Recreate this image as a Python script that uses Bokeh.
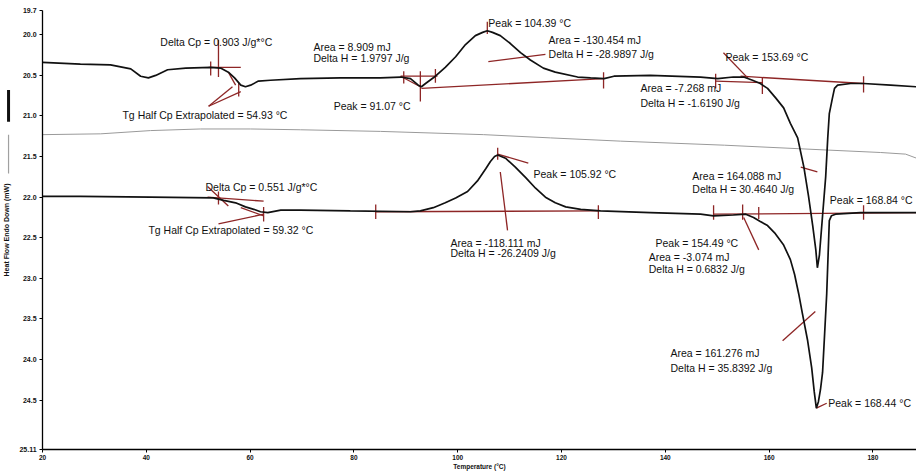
from bokeh.plotting import figure
from bokeh.models import Range1d, FixedTicker, Label
from bokeh.embed import file_html
from bokeh.resources import INLINE

# ---------------- data (temperature °C, heat flow mW) ----------------
top_T = [20.0, 27.3, 33.1, 37.0, 38.9, 40.4, 41.8, 44.1, 47.6, 52.4, 54.3, 55.8, 57.0, 58.2, 59.1, 60.1,
         61.6, 63.9, 69.7, 77.4, 85.1, 89.0, 90.9, 92.4, 93.0, 93.8, 95.7, 97.6, 99.6, 101.5, 103.4, 104.8,
         105.7, 106.7, 108.2, 110.2, 112.1, 114.0, 116.5, 118.8, 123.1, 125.6, 128.2, 130.1, 137.1, 146.8,
         150.1, 153.1, 155.1, 156.8, 158.3, 159.7, 161.3, 162.8, 164.1, 165.5, 166.7, 167.6, 168.4, 169.0,
         169.3, 169.7, 170.3, 170.9, 171.3, 171.6, 172.2, 172.6, 173.2, 175.7, 178.2, 183.4, 188.4]
top_H = [20.34, 20.36, 20.37, 20.42, 20.51, 20.53, 20.50, 20.43, 20.41, 20.40, 20.41, 20.46, 20.53, 20.62,
         20.64, 20.62, 20.57, 20.56, 20.54, 20.53, 20.53, 20.52, 20.54, 20.62, 20.64, 20.60, 20.51, 20.40,
         20.27, 20.12, 20.01, 19.97, 19.95, 19.97, 20.01, 20.11, 20.22, 20.31, 20.41, 20.46, 20.52, 20.53,
         20.54, 20.51, 20.50, 20.52, 20.54, 20.52, 20.52, 20.56, 20.60, 20.66, 20.78, 20.90, 21.09, 21.27,
         21.63, 21.99, 22.35, 22.65, 22.87, 22.71, 22.23, 21.75, 21.27, 20.97, 20.78, 20.66, 20.62, 20.60,
         20.60, 20.62, 20.64]

mid_T = [20.0, 31.2, 40.8, 50.4, 60.1, 69.7, 85.1, 105.0, 117.9, 131.4, 151.4, 171.3, 181.5, 186.3, 188.4]
mid_H = [21.23, 21.22, 21.18, 21.16, 21.16, 21.17, 21.19, 21.23, 21.27, 21.31, 21.36, 21.42, 21.45, 21.47, 21.52]

bot_T = [20.0, 27.3, 40.8, 52.9, 54.9, 57.2, 59.1, 60.7, 62.0, 63.4, 65.9, 69.7, 79.3, 90.9, 92.8, 95.3,
         97.6, 99.6, 101.9, 103.8, 105.4, 106.3, 107.1, 107.7, 109.2, 111.1, 113.1, 115.0, 116.9, 118.8,
         120.8, 123.7, 127.5, 137.1, 146.8, 149.3, 153.1, 155.5, 157.0, 158.3, 159.7, 161.2, 162.8, 164.1,
         164.9, 165.7, 166.4, 167.4, 168.2, 168.7, 169.1, 169.5, 169.9, 170.3, 170.7, 171.1, 171.3, 171.5,
         171.6, 172.0, 172.8, 177.6, 188.4]
bot_H = [21.99, 21.99, 22.00, 22.01, 22.04, 22.07, 22.12, 22.15, 22.18, 22.19, 22.16, 22.16, 22.17, 22.18,
         22.17, 22.13, 22.07, 22.01, 21.93, 21.80, 21.65, 21.56, 21.50, 21.48, 21.52, 21.63, 21.76, 21.89,
         22.00, 22.07, 22.12, 22.15, 22.17, 22.19, 22.21, 22.23, 22.22, 22.21, 22.25, 22.30, 22.35, 22.45,
         22.59, 22.77, 22.95, 23.19, 23.43, 23.76, 24.10, 24.40, 24.60, 24.52, 24.37, 24.16, 23.68, 23.19,
         22.83, 22.47, 22.29, 22.23, 22.21, 22.19, 22.19]

x_ticks = [20, 40, 60, 80, 100, 120, 140, 160, 180]
y_ticks = [19.7, 20.0, 20.5, 21.0, 21.5, 22.0, 22.5, 23.0, 23.5, 24.0, 24.5, 25.11]
y_tick_labels = ["19.7", "20.0", "20.5", "21.0", "21.5", "22.0", "22.5", "23.0", "23.5", "24.0", "24.5", "25.11"]

# curve key strokes drawn in the left margin (heat-flow extent of each stroke)
key_black_H = [20.68, 21.07]
key_gray_H = [21.23, 21.71]

# analysis construction lines (tangents, limits, pointers), data units
seg_T = [[53.9, 53.9], [52.0, 58.2], [52.4, 52.4], [52.0, 56.6], [52.0, 58.2], [55.8, 57.2], [57.8, 57.8],
         [92.8, 92.8], [89.0, 96.1], [95.7, 95.7], [89.0, 92.8], [89.6, 89.6], [93.0, 128.1], [128.1, 128.1],
         [105.7, 105.7], [105.9, 116.9], [149.7, 158.7], [154.5, 178.2], [149.7, 149.7], [158.7, 158.7],
         [178.2, 178.2], [151.2, 156.0],
         [51.8, 55.8], [51.8, 62.6], [53.9, 62.6], [58.2, 62.6], [62.6, 62.6], [53.9, 53.9], [84.2, 84.2],
         [107.7, 107.7], [107.7, 113.6], [108.2, 109.6], [84.2, 127.1], [127.1, 127.1], [149.3, 149.3],
         [154.9, 154.9], [158.0, 158.0], [155.1, 158.0], [149.3, 188.4], [178.2, 178.2], [162.6, 168.9],
         [166.1, 169.3], [169.1, 171.1]]
seg_H = [[20.06, 20.52], [20.40, 20.40], [20.33, 20.50], [20.88, 20.64], [20.88, 20.70], [20.46, 20.62],
         [20.59, 20.76], [20.45, 20.82], [20.51, 20.51], [20.42, 20.59], [20.51, 20.64], [20.45, 20.60],
         [20.66, 20.54], [20.46, 20.66], [19.84, 19.99], [20.33, 20.24], [20.57, 20.59], [20.51, 20.60],
         [20.48, 20.66], [20.53, 20.73], [20.51, 20.71], [20.22, 20.54],
         [21.87, 22.11], [22.00, 22.05], [22.33, 22.21], [22.13, 22.23], [22.12, 22.30], [21.93, 22.09],
         [22.09, 22.27], [21.39, 21.54], [21.47, 21.58], [21.69, 22.41], [22.18, 22.17], [22.10, 22.27],
         [22.10, 22.28], [22.09, 22.28], [22.12, 22.27], [22.25, 22.65], [22.21, 22.19], [22.10, 22.28],
         [23.77, 23.41], [21.63, 21.69], [24.60, 24.54]]

notes = [
    (42.7, 20.09, "Delta Cp = 0.903 J/g*°C"),
    (35.4, 20.99, "Tg  Half Cp Extrapolated = 54.93 °C"),
    (72.2, 20.15, "Area = 8.909 mJ"),
    (72.2, 20.29, "Delta H = 1.9797 J/g"),
    (76.1, 20.88, "Peak = 91.07 °C"),
    (105.9, 19.86, "Peak = 104.39 °C"),
    (117.5, 20.06, "Area = -130.454 mJ"),
    (117.5, 20.24, "Delta H = -28.9897 J/g"),
    (135.2, 20.66, "Area = -7.268 mJ"),
    (135.2, 20.84, "Delta H = -1.6190 J/g"),
    (151.6, 20.27, "Peak = 153.69 °C"),
    (145.2, 21.74, "Area = 164.088 mJ"),
    (145.2, 21.90, "Delta H = 30.4640 J/g"),
    (171.7, 22.03, "Peak = 168.84 °C"),
    (51.4, 21.87, "Delta Cp = 0.551 J/g*°C"),
    (40.4, 22.41, "Tg  Half Cp Extrapolated = 59.32 °C"),
    (114.6, 21.71, "Peak = 105.92 °C"),
    (98.6, 22.56, "Area = -118.111 mJ"),
    (98.6, 22.69, "Delta H = -26.2409 J/g"),
    (138.1, 22.57, "Peak = 154.49 °C"),
    (136.8, 22.74, "Area = -3.074 mJ"),
    (136.8, 22.89, "Delta H = 0.6832 J/g"),
    (141.0, 23.92, "Area = 161.276 mJ"),
    (141.0, 24.10, "Delta H = 35.8392 J/g"),
    (171.4, 24.54, "Peak = 168.44 °C"),
]

# ---------------- figure ----------------
FONT = "Liberation Sans"
# the frame covers the whole canvas; both axes are pinned (20 °C, 25.11 mW) so the
# margins (tick labels, titles, curve key) lie inside the plotting area
p = figure(width=916, height=472, output_backend="svg", toolbar_location=None,
           x_range=Range1d(11.9, 188.4), y_range=Range1d(25.393, 19.577),
           min_border_left=0, min_border_right=0, min_border_top=0, min_border_bottom=0,
           background_fill_color="white", border_fill_color="white")
p.grid.visible = False
p.outline_line_color = None

p.xaxis.ticker = FixedTicker(ticks=x_ticks)
p.xaxis.bounds = (20, 188.4)
p.xaxis.fixed_location = 25.11
p.yaxis.ticker = FixedTicker(ticks=y_ticks)
p.yaxis.bounds = (19.7, 25.11)
p.yaxis.fixed_location = 20
p.yaxis.major_label_overrides = {t: s for t, s in zip(y_ticks, y_tick_labels)}
for ax in (p.xaxis, p.yaxis):
    ax.axis_line_color = "black"
    ax.axis_line_width = 1.3
    ax.major_tick_line_color = "black"
    ax.major_tick_out = 3
    ax.major_tick_in = 0
    ax.minor_tick_line_color = None
    ax.major_label_text_font = FONT
    ax.major_label_text_font_size = "7px"
    ax.major_label_text_font_style = "bold"
    ax.major_label_text_color = "#111111"
    ax.major_label_standoff = 3
    ax.axis_label_text_font = FONT
    ax.axis_label_text_font_size = "7px"
    ax.axis_label_text_font_style = "bold"
    ax.axis_label_text_color = "#111111"
p.xaxis.major_label_text_font_size = "6.5px"
p.xaxis.axis_label_text_font_size = "6.5px"
p.xaxis.major_label_standoff = 2
p.xaxis.axis_label = "Temperature (°C)"
p.xaxis.axis_label_standoff = 0
p.yaxis.axis_label = "Heat Flow Endo Down (mW)"
p.yaxis.axis_label_standoff = 6

# curve key strokes in the left margin
p.line([13.45, 13.45], key_black_H, line_color="#111111", line_width=3)
p.line([13.45, 13.45], key_gray_H, line_color="#a0a0a0", line_width=1.2)

# curves
p.line(mid_T, mid_H, line_color="#9a9a9a", line_width=1.0)
p.multi_line(seg_T, seg_H, line_color="#8e2626", line_width=1.3)
p.line(top_T, top_H, line_color="#111111", line_width=1.7)
p.line(bot_T, bot_H, line_color="#111111", line_width=1.7)

# annotation texts
for t, h, s in notes:
    p.add_layout(Label(x=t, y=h, text=s, text_font=FONT, text_font_size="10.5px",
                       text_align="left", text_baseline="middle", text_color="#111111"))

open("out.html", "w").write(file_html(p, INLINE))
